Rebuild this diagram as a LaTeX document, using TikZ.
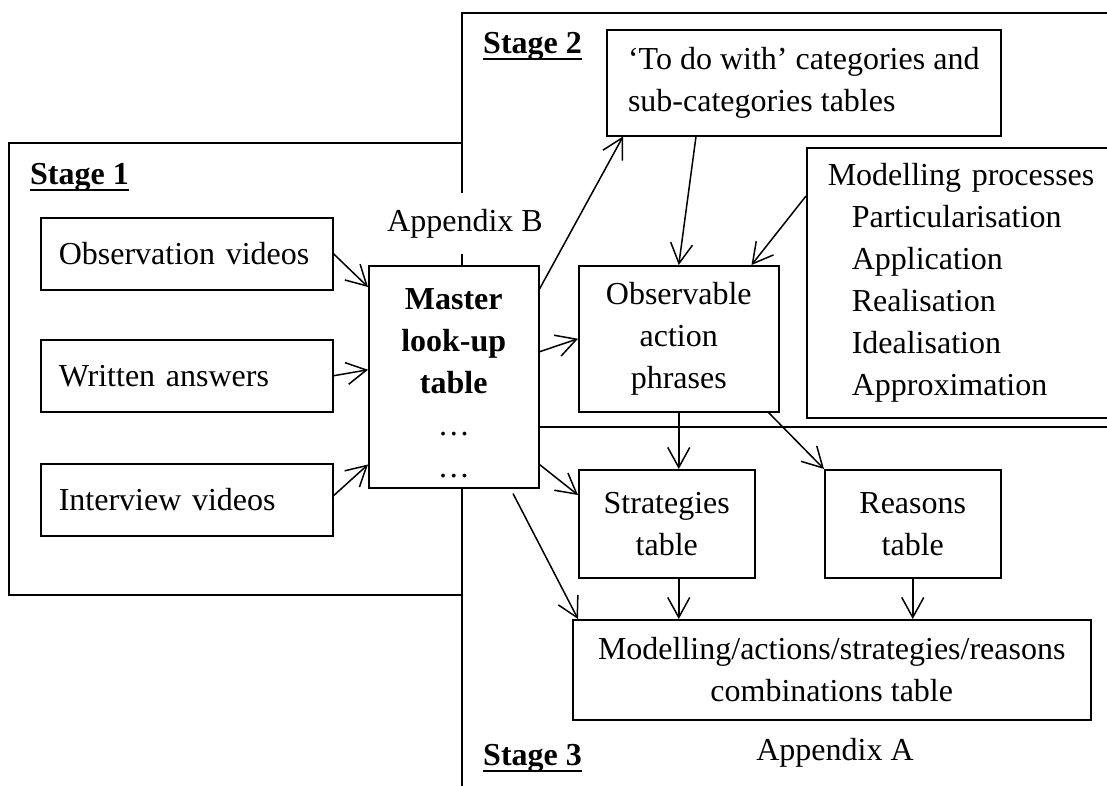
\documentclass[tikz,border=0pt]{standalone}
\usepackage{fontspec}
\setmainfont{Liberation Serif}
\usetikzlibrary{arrows.meta,calc}

\begin{document}
\begin{tikzpicture}[x=1pt,y=-1pt,
  every node/.style={font=\fontsize{32}{42}\selectfont},
  box/.style={draw,line width=1.5pt,fill=white,inner sep=0pt,anchor=north west},
  leftbox/.style={box,align=left,inner xsep=18pt},
  midbox/.style={box,align=center},
  flow/.style={line width=1.5pt,-{Straight Barb[length=20pt,width=22pt]}},
  frame/.style={line width=1.5pt},
  stagelabel/.style={font=\fontsize{32}{42}\selectfont\bfseries,anchor=base west,inner sep=0pt},
  tag/.style={anchor=base,inner sep=0pt}
]
\useasboundingbox (0,0) rectangle (1107,785);
\clip (0,0) rectangle (1107,785);

% stage frames
\draw[line width=2pt] (462,427) -- (1130,427);
\draw[frame] (462,595) -- (9,595) -- (9,143) -- (462,143);
\draw[frame] (462,800) -- (462,13) -- (1130,13);

% stage labels
\node[stagelabel] (s1) at (30,184) {Stage 1};
\node[stagelabel] (s2) at (483,53) {Stage 2};
\node[stagelabel] (s3) at (483,765) {Stage 3};
\foreach \s in {s1,s2,s3}
  \draw[line width=2.5pt] ($(\s.base west)+(0,6)$) -- ($(\s.base east)+(0,6)$);

% appendix tags
\node[tag,fill=white,inner xsep=2pt,inner ysep=16pt] (appB) at (465,231) {Appendix B};
\node[tag] (appA) at (835,760) {Appendix A};

% stage 1 sources
\node[leftbox,text width=256pt,minimum height=72pt] (obs) at (40,217) {Observation videos};
\node[leftbox,text width=256pt,minimum height=72pt] (written) at (40,339) {Written answers};
\node[leftbox,text width=256pt,minimum height=72pt] (interview) at (40,463) {Interview videos};

% master table
\node[box,minimum width=170pt,minimum height=222pt] (master) at (368,265) {};
\node[align=center,inner sep=0pt] (mastertext) at ($(master.center)+(0,6)$)
  {\textbf{Master}\\\textbf{look-up}\\\textbf{table}\\…\\…};

% stage 2
\node[box,align=left,minimum width=394pt,minimum height=106pt] (todo) at (606,29)
  {‘To do with’ categories and\\sub-categories tables};
\node[box,align=left,text width=300pt,inner xsep=21pt,minimum height=270pt] (model) at (806,147)
  {Modelling processes\\\hspace*{24pt}Particularisation\\\hspace*{24pt}Application\\\hspace*{24pt}Realisation\\\hspace*{24pt}Idealisation\\\hspace*{24pt}Approximation};
\node[midbox,minimum width=200pt,minimum height=146pt] (obsv) at (578,265)
  {Observable\\action\\phrases};

% stage 3
\node[midbox,minimum width=176pt,minimum height=108pt] (strat) at (578,469)
  {Strategies\\table};
\node[midbox,minimum width=176pt,minimum height=108pt] (reasons) at (824,469)
  {Reasons\\table};
\node[midbox,minimum width=518pt,minimum height=100pt] (comb) at (572,619)
  {Modelling/actions/strategies/reasons\\combinations table};

% connectors
\draw[flow] (obs.east) -- ($(master.north west)+(0,22)$);
\draw[flow] (written.east) -- ($(master.west)+(0,-7)$);
\draw[flow] ($(interview.east)+(0,-4)$) -- ($(master.south west)+(0,-24)$);
\draw[flow] ($(master.north east)+(0,24)$) -- ($(todo.south west)+(17,0)$);
\draw[flow] ($(master.east)+(0,-25)$) -- (obsv.west);
\draw[flow] ($(todo.south west)+(90,0)$) -- (obsv.north);
\draw[flow] ($(model.north west)+(0,49)$) -- ($(obsv.north east)+(-28,0)$);
\draw[flow] (obsv.south) -- (obsv.south |- strat.north);
\draw[flow] ($(obsv.south east)+(-11,0)$) -- (reasons.north west);
\draw[flow] ($(master.south east)+(0,-24)$) -- ($(strat.north west)+(0,26)$);
\draw[flow] ($(master.south west)+(145,5)$) -- ($(comb.north west)+(6,0)$);
\draw[flow] (obsv.south |- strat.south) -- (obsv.south |- comb.north);
\draw[flow] (reasons.south) -- (reasons.south |- comb.north);
\end{tikzpicture}
\end{document}
